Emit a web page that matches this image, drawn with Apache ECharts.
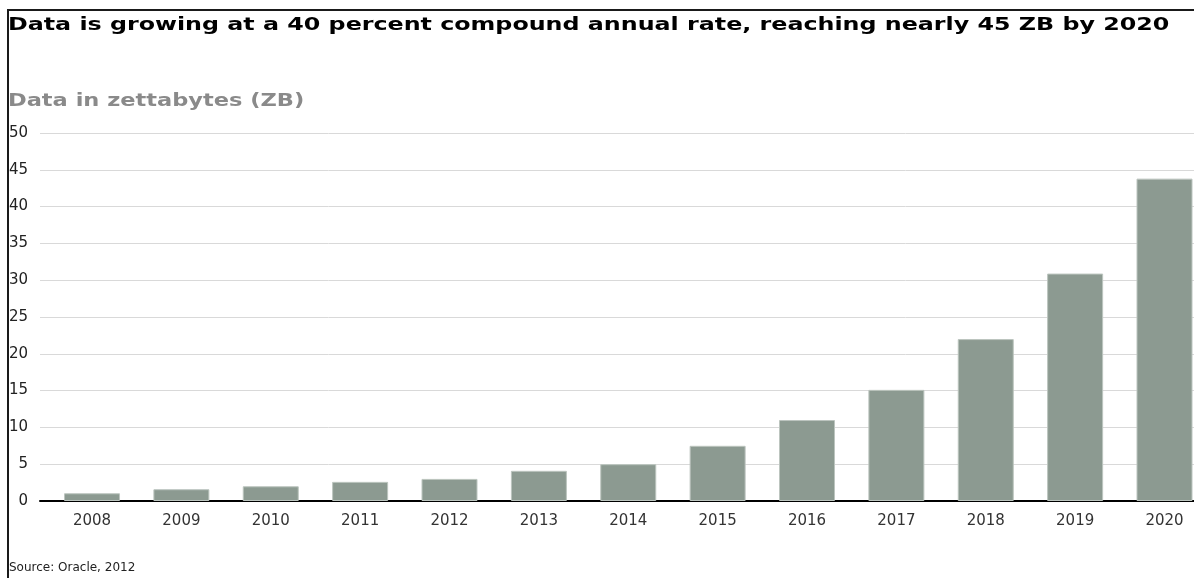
<!DOCTYPE html>
<html>
<head>
<meta charset="utf-8">
<script src="https://cdn.jsdelivr.net/npm/echarts@6/dist/echarts.min.js"></script>
<style>
  html, body { margin: 0; padding: 0; background: #fff; }
  #chart { width: 1194px; height: 578px; }
  /* frame lines top and left, like the cropped source image */
  .frame { position: absolute; left: 7px; top: 9px; right: 0; bottom: 0;
           border-top: 2px solid #1a1a1a; border-left: 2px solid #1a1a1a; pointer-events: none; }
</style>
</head>
<body>
<div id="chart"></div>
<div class="frame"></div>
<script>
const years = ['2008', '2009', '2010', '2011', '2012', '2013', '2014', '2015', '2016', '2017', '2018', '2019', '2020']
const zettabytes = [1.05, 1.6, 2.0, 2.6, 3.0, 4.1, 5.0, 7.5, 11, 15.1, 22, 30.9, 43.8]
const titleText = 'Data is growing at a 40 percent compound annual rate, reaching nearly 45 ZB by 2020'
const unitText = 'Data in zettabytes (ZB)'
const sourceText = 'Source: Oracle, 2012'

const font = 'DejaVu Sans'
const myChart = echarts.init(document.getElementById('chart'))

const options = {
  animation: false,
  // the original headline font is very wide, so stretch the text a bit
  graphic: [
    {
      type: 'text',
      left: 8,
      top: 16,
      scaleX: 1.32,
      style: {
        text: titleText,
        font: 'bold 18px "DejaVu Sans"',
        fill: '#000'
      }
    },
    {
      type: 'text',
      left: 8,
      top: 92,
      scaleX: 1.25,
      style: {
        text: unitText,
        font: 'bold 18px "DejaVu Sans"',
        fill: '#8a8a8a'
      }
    }
  ],
  title: [
    {
      text: sourceText,
      left: 4,
      top: 557,
      textStyle: { fontFamily: font, fontWeight: 'normal', fontSize: 12, color: '#222' }
    }
  ],
  grid: {
    left: 40,
    right: 0,
    top: 133,
    bottom: 77
  },
  xAxis: {
    // value axis so the gridlines can start a bit left of the first band
    type: 'value',
    min: -0.582,
    max: 12.33,
    axisLine: { show: true, lineStyle: { color: '#000', width: 2 } },
    axisTick: { show: false },
    splitLine: { show: false },
    axisLabel: {
      customValues: years.map((y, i) => i),
      formatter: v => years[Math.round(v)],
      fontFamily: font,
      fontSize: 15,
      color: '#333',
      margin: 13
    }
  },
  yAxis: {
    type: 'value',
    min: 0,
    max: 50,
    interval: 5,
    axisLine: { show: false },
    axisTick: { show: false },
    splitLine: { lineStyle: { color: '#d9d9d9', width: 1 } },
    axisLabel: {
      fontFamily: font,
      fontSize: 15,
      color: '#222',
      margin: 12
    }
  },
  series: [
    {
      type: 'bar',
      barWidth: 56,
      data: zettabytes.map((v, i) => [i, v]),
      itemStyle: {
        color: '#8c9a91',
        borderColor: '#bcc5bf',
        borderWidth: 1
      }
    }
  ]
}
myChart.setOption(options)
</script>
</body>
</html>
